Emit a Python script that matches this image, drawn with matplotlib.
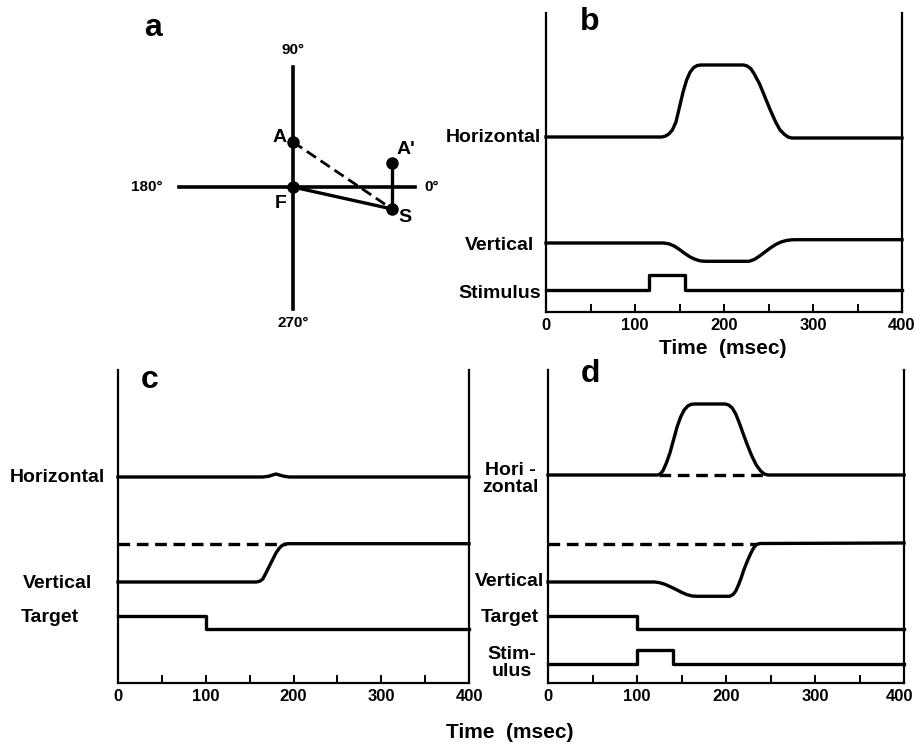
import matplotlib.pyplot as plt
import matplotlib.transforms as mtransforms

plt.rcParams['font.family'] = ['Liberation Sans', 'DejaVu Sans']
plt.rcParams['font.weight'] = 'bold'

W, H = 915, 744

# ---- data ----
# panel a: geometry in the visual field, F at the origin
a_horiz = [-114, 122]
a_vert = [-122, 120]
pt_A = (0, 45)
pt_F = (0, 0)
pt_S = (99, -22)
pt_Ap = (99, 24)

# panel b: saccade with a stimulus during it
b_h_t = [0, 130, 134, 138, 142, 146, 150, 154, 158, 162, 166, 170, 174,
         222, 226, 230, 234, 240, 246, 252, 258, 263, 268, 272, 276, 400]
b_h_v = [0, 0, 0.8, 3, 7, 15, 30, 45, 57, 65, 69.5, 71.5, 72,
         72, 71, 68.5, 63, 53, 40, 27, 15, 7, 2.5, 0, -1, -1]
b_v_t = [0, 132, 138, 144, 150, 156, 162, 168, 174, 180, 228, 234, 240, 246,
         252, 258, 264, 270, 276, 282, 400]
b_v_v = [0, 0, -0.8, -3, -6.5, -10.5, -14, -16.5, -18, -18.3, -18.3, -16.5, -13, -9,
         -5, -1.5, 1, 2.5, 3.2, 3.3, 3.3]
b_s_t = [0, 116, 116, 156, 156, 400]
b_s_v = [0, 0, 15, 15, 0, 0]

# panel c: target step, vertical saccade only
c_h_t = [0, 165, 172, 176, 180, 184, 189, 195, 400]
c_h_v = [0, 0, 0.8, 2, 3, 2, 0.8, 0, 0]
c_v_t = [0, 158, 162, 165, 168, 172, 176, 180, 184, 187, 190, 194, 400]
c_v_v = [0, 0, 1, 3, 8, 15, 22, 29, 34, 36.5, 37.8, 38.3, 38.3]
c_v_goal = 38.3
c_v_goal_end = 192
tgt_t = [0, 100, 100, 400]
tgt_v = [13.5, 13.5, 0, 0]

# panel d: target step plus stimulus
d_h_t = [0, 123, 126, 129, 133, 137, 141, 145, 149, 153, 157, 161, 165,
         199, 203, 207, 211, 215, 219, 224, 229, 234, 239, 243, 247, 400]
d_h_v = [0, 0, 1, 4, 12, 22, 35, 48, 58, 65, 69, 70.7, 71,
         71, 70, 67, 61, 52, 42, 30, 19, 10, 4, 1, 0, 0]
d_h_ref = (125, 247)
d_v_t = [0, 120, 126, 132, 138, 144, 150, 156, 162, 168, 204, 208, 211, 214,
         217, 220, 224, 228, 231, 234, 238, 400]
d_v_v = [0, 0, -0.8, -2.5, -5, -7.5, -10.3, -12.6, -14, -14.3, -14.3, -12.5, -9, -3,
         4, 12, 21, 29, 34, 37.3, 38.5, 39]
d_v_goal = 38.3
d_v_goal_end = 235
d_s_t = [0, 100, 100, 140, 140, 400]
d_s_v = [0, 0, 14, 14, 0, 0]

time_ticks = [0, 100, 200, 300, 400]


def px_axes(fig, left, top, right, bottom):
    return fig.add_axes([left / W, 1 - bottom / H, (right - left) / W, (bottom - top) / H])


def trace_axes(ax, height):
    ax.set_xlim(0, 400)
    ax.set_ylim(0, height)
    ax.spines['top'].set_visible(False)
    for s in ['left', 'right', 'bottom']:
        ax.spines[s].set_linewidth(1.6)
    ax.set_yticks([])
    ax.set_xticks(time_ticks)
    ax.set_xticks(range(50, 400, 100), minor=True)
    ax.tick_params(axis='x', which='both', direction='in', length=6, width=1.4, pad=4,
                   labelsize=12)
    for lbl in ax.get_xticklabels():
        lbl.set_fontweight('bold')
    ax.patch.set_alpha(0)


def trace(ax, t, v, base, ls='-'):
    ax.plot(t, [x + base for x in v], color='black', lw=2.4, ls=ls,
            solid_joinstyle='round', clip_on=False)


fig = plt.figure(figsize=(W / 100, H / 100), dpi=100)
lab = dict(fontsize=14, fontweight='bold')
dash = (0, (3.5, 2))

# ---- panel a ----
axa = px_axes(fig, 140, 20, 460, 340)
axa.set_xlim(-153, 167)
axa.set_ylim(-153, 167)
axa.axis('off')
axa.plot(a_horiz, [0, 0], color='black', lw=2.6)
axa.plot([0, 0], a_vert, color='black', lw=2.6)
axa.plot([pt_A[0], pt_S[0]], [pt_A[1], pt_S[1]], color='black', lw=2, ls=(0, (4, 2)))
axa.plot([pt_F[0], pt_S[0]], [pt_F[1], pt_S[1]], color='black', lw=2.4)
axa.plot([pt_S[0], pt_Ap[0]], [pt_S[1], pt_Ap[1]], color='black', lw=2.4)
for p in [pt_A, pt_F, pt_S, pt_Ap]:
    axa.plot(*p, 'o', color='black', ms=8)
deg = dict(ha='center', va='center', fontsize=11, fontweight='bold')
axa.text(0, 137, '90°', **deg)
axa.text(0, -136, '270°', **deg)
axa.text(-146, 0, '180°', **deg)
axa.text(139, 0, '0°', **deg)
axa.text(pt_A[0] - 6, pt_A[1] + 4, 'A', ha='right', va='center', **lab)
axa.text(pt_F[0] - 6, pt_F[1] - 16, 'F', ha='right', va='center', **lab)
axa.text(pt_S[0] + 6, pt_S[1] - 8, 'S', ha='left', va='center', **lab)
axa.text(pt_Ap[0] + 5, pt_Ap[1] + 13, "A'", ha='left', va='center', **lab)
fig.text(153 / W, 1 - 28 / H, 'a', ha='center', va='center', fontsize=23, fontweight='bold')

# ---- panel b ----
axb = px_axes(fig, 546, 13, 902, 312)
trace_axes(axb, 299)
trace(axb, b_h_t, b_h_v, 175)
trace(axb, b_v_t, b_v_v, 69)
trace(axb, b_s_t, b_s_v, 22)
fig.text(590 / W, 1 - 22 / H, 'b', ha='center', va='center', fontsize=23, fontweight='bold')
fig.text(541 / W, 1 - 138 / H, 'Horizontal', ha='right', va='center', **lab)
fig.text(534 / W, 1 - 245 / H, 'Vertical', ha='right', va='center', **lab)
fig.text(541 / W, 1 - 293 / H, 'Stimulus', ha='right', va='center', **lab)
fig.text(723 / W, 1 - 348 / H, 'Time  (msec)', ha='center', va='center',
         fontsize=15, fontweight='bold')

# ---- panel c ----
axc = px_axes(fig, 118, 370, 469, 683)
trace_axes(axc, 313)
trace(axc, c_h_t, c_h_v, 206)
axc.plot([0, c_v_goal_end], [101 + c_v_goal] * 2, color='black', lw=2.4, ls=dash)
trace(axc, c_v_t, c_v_v, 101)
trace(axc, tgt_t, tgt_v, 54)
fig.text(150 / W, 1 - 380 / H, 'c', ha='center', va='center', fontsize=23, fontweight='bold')
fig.text(57 / W, 1 - 477 / H, 'Horizontal', ha='center', va='center', **lab)
fig.text(57 / W, 1 - 583 / H, 'Vertical', ha='center', va='center', **lab)
fig.text(50 / W, 1 - 617 / H, 'Target', ha='center', va='center', **lab)

# ---- panel d ----
axd = px_axes(fig, 548, 370, 904, 683)
trace_axes(axd, 313)
axd.plot(d_h_ref, [208, 208], color='black', lw=2.4, ls=dash)
trace(axd, d_h_t, d_h_v, 208)
axd.plot([0, d_v_goal_end], [101 + d_v_goal] * 2, color='black', lw=2.4, ls=dash)
trace(axd, d_v_t, d_v_v, 101)
trace(axd, tgt_t, tgt_v, 54)
trace(axd, d_s_t, d_s_v, 19)
# keep the last tick label inside the figure edge
last = axd.get_xticklabels()[-1]
last.set_transform(last.get_transform()
                   + mtransforms.ScaledTranslation(-4 / 100, 0, fig.dpi_scale_trans))
fig.text(590 / W, 1 - 374 / H, 'd', ha='center', va='center', fontsize=23, fontweight='bold')
fig.text(510 / W, 1 - 479 / H, 'Hori -\nzontal', ha='center', va='center',
         linespacing=0.95, **lab)
fig.text(544 / W, 1 - 581 / H, 'Vertical', ha='right', va='center', **lab)
fig.text(510 / W, 1 - 617 / H, 'Target', ha='center', va='center', **lab)
fig.text(512 / W, 1 - 663 / H, 'Stim-\nulus', ha='center', va='center',
         linespacing=0.95, **lab)

fig.text(510 / W, 1 - 733 / H, 'Time  (msec)', ha='center', va='center',
         fontsize=15, fontweight='bold')

fig.savefig('out.png', dpi=100, facecolor='white')
